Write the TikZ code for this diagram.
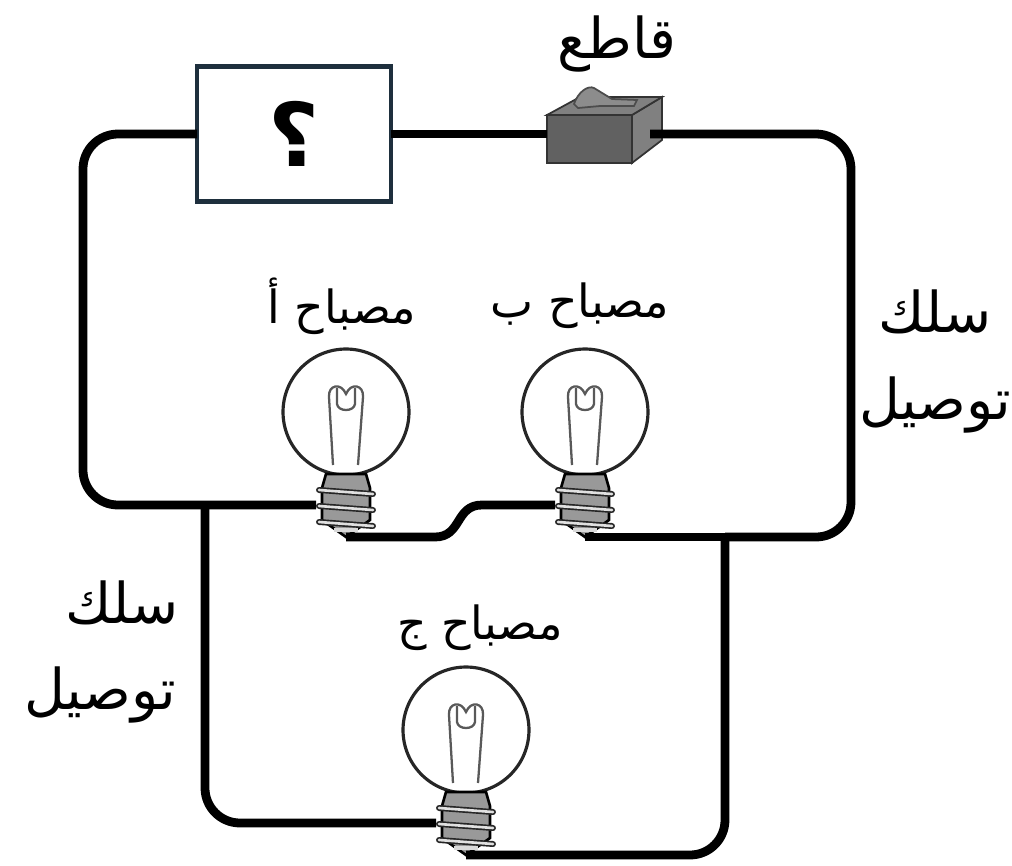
\documentclass[tikz,border=0pt]{standalone}
\usepackage{fontspec}
\newfontfamily\arabicfont[Script=Arabic]{DejaVu Sans}
\TeXXeTstate=1
\definecolor{boxedge}{RGB}{30,47,61}
\tikzset{
    wire/.style={line width=5pt,rounded corners=0.7cm},
    lbl/.style={font=\arabicfont\fontsize{26}{30}\selectfont,inner sep=0pt},
    lblbig/.style={font=\arabicfont\fontsize{32}{36}\selectfont,inner sep=0pt},
    bulb/.pic={
        \draw[line width=1.8pt,black!85,fill=white](0,0) circle[radius=1.26cm];
        \draw[line width=1.3pt,black!65](-13,53)--(-17,-15) .. controls (-18,-27) and (-5,-30) .. (0,-18) .. controls (5,-30) and (18,-27) .. (17,-15)--(12,53);
        \draw[line width=1.3pt,black!65](-9,-24)--(-9,-8) .. controls (-8,0) and (8,0) .. (9,-8)--(9,-24);
        \filldraw[line width=1.5pt,fill=black!40](-20,62)--(20,62)--(24,76)--(24,108)--(0,125)--(-24,108)--(-24,76)--cycle;
        \foreach \ty in {78,94,110}{
            \draw[line width=3.4pt,line cap=round,black!85](-27,\ty)--(27,\ty+4);
            \draw[line width=1.5pt,line cap=round,black!12](-27,\ty)--(27,\ty+4);
        }
        \draw[line width=2pt,black!15](-12,118)--(12,118);
        \coordinate (-left) at (-30,93);
        \coordinate (-tip) at (0,125);
    }
}
\begin{document}
\begin{tikzpicture}[x=0.02cm,y=-0.02cm]
    \useasboundingbox (0,0) rectangle (1012,866);
    \pic (bulba) at (346,412) {bulb};
    \pic (bulbb) at (585,412) {bulb};
    \pic (bulbc) at (466,730) {bulb};

    \node[draw=boxedge,line width=2.8pt,fill=white,minimum width=3.88cm,minimum height=2.7cm,inner sep=0pt,outer sep=0pt,font=\arabicfont\bfseries\fontsize{50}{54}\selectfont] (qbox) at (294,134) {\beginR ؟\endR};

    \node[draw=black!80,line width=1pt,fill=black!62,minimum width=1.7cm,minimum height=0.96cm,inner sep=0pt,outer sep=0pt] (swfront) at (589.5,139) {};
    \filldraw[draw=black!80,line width=1pt,fill=black!50](swfront.north east)--(662,97)--(662,140)--(swfront.south east)--cycle;
    \filldraw[draw=black!80,line width=1pt,fill=black!50](swfront.north west)--(580,97)--(662,97)--(swfront.north east)--cycle;
    \filldraw[draw=black!70,line width=1pt,fill=black!45](574,104) .. controls (578,92) and (588,85) .. (594,88)--(612,99)--(637,100)--(634,106)--(600,106)--(578,108)--cycle;

    \coordinate (junctl) at (205,505);
    \coordinate (junctr) at (725,537);
    \coordinate (swwest) at (swfront.west |- qbox.east);
    \draw[wire](qbox.west)--(83,134)--(83,505)--(bulba-left);
    \draw[wire](qbox.east)--(swwest);
    \draw[wire](650,134)--(851,134)--(851,537)--(junctr);
    \draw[wire](bulbb-tip)--(junctr);
    \draw[wire](junctl)--(205,823)--(bulbc-left);
    \draw[wire](junctr)--(725,855)--(bulbc-tip);
    \draw[line width=5pt](bulba-tip)--(435,537) .. controls (462,537) and (455,505) .. (482,505)--(bulbb-left);

    \node[lblbig] (lblswitch) at (617,44) {\beginR قاطع\endR};
    \node[lbl] (lbla) at (342,306) {\beginR مصباح أ\endR};
    \node[lbl] (lblb) at (580,306) {\beginR مصباح ب\endR};
    \node[lbl] (lblc) at (480,628) {\beginR مصباح ج\endR};
    \node[lblbig] (lblwirer) at (935,312) {\beginR سلك\endR};
    \node[lblbig] (lblwirerb) at (935,405) {\beginR توصيل\endR};
    \node[lblbig] (lblwirel) at (122,603) {\beginR سلك\endR};
    \node[lblbig] (lblwirelb) at (100,695) {\beginR توصيل\endR};
\end{tikzpicture}
\end{document}
